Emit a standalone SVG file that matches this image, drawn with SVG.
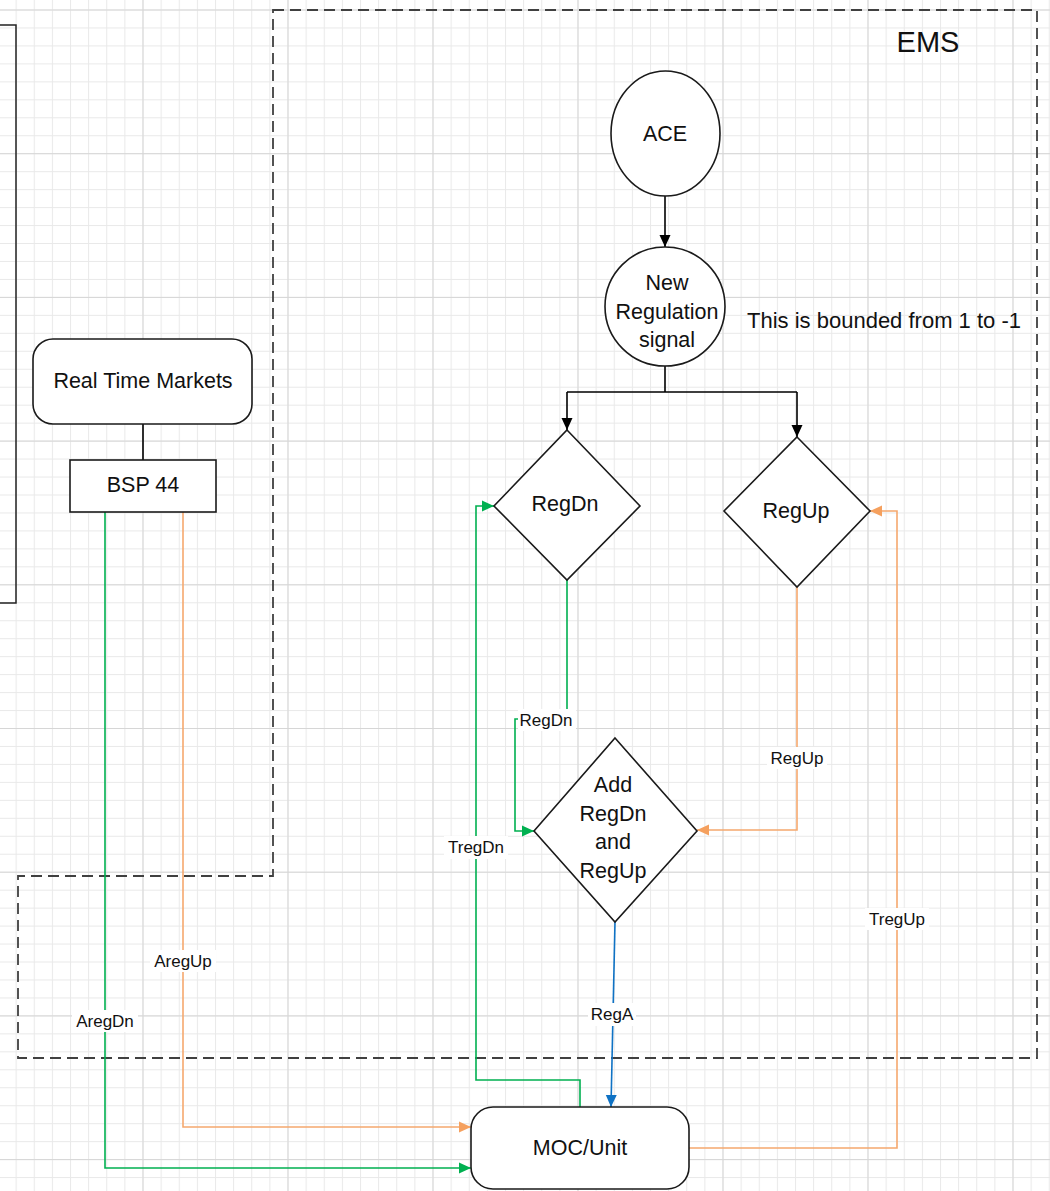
<svg xmlns="http://www.w3.org/2000/svg" width="1050" height="1191" viewBox="0 0 1050 1191">
<defs>
<pattern id="minor" patternUnits="userSpaceOnUse" x="-2.5" y="9.5" width="18.125" height="17.9625">
<rect x="0" y="0" width="1" height="17.9625" fill="#e9e9e9"/>
<rect x="0" y="0" width="18.125" height="1" fill="#e9e9e9"/>
</pattern>
<pattern id="major" patternUnits="userSpaceOnUse" x="-2.5" y="9.5" width="145" height="143.7">
<rect x="0" y="0" width="1" height="143.7" fill="#d6d6d6"/>
<rect x="0" y="0" width="145" height="1" fill="#d6d6d6"/>
</pattern>
<marker id="aBlack" markerUnits="userSpaceOnUse" markerWidth="12" markerHeight="12" refX="12" refY="6" orient="auto"><path d="M0,0.5 L12,6 L0,11.5 z" fill="#000"/></marker>
<marker id="aGreen" markerUnits="userSpaceOnUse" markerWidth="12" markerHeight="12" refX="12" refY="6" orient="auto"><path d="M0,0.5 L12,6 L0,11.5 z" fill="#00b050"/></marker>
<marker id="aOrange" markerUnits="userSpaceOnUse" markerWidth="12" markerHeight="12" refX="12" refY="6" orient="auto"><path d="M0,0.5 L12,6 L0,11.5 z" fill="#f5a05e"/></marker>
<marker id="aBlue" markerUnits="userSpaceOnUse" markerWidth="12" markerHeight="12" refX="12" refY="6" orient="auto"><path d="M0,0.5 L12,6 L0,11.5 z" fill="#0f72c4"/></marker>
</defs>
<style>
.node{fill:#fff;stroke:#1a1a1a;stroke-width:1.6}
.t{font-family:"Liberation Sans",Arial,sans-serif;font-size:21.5px;fill:#111;text-anchor:middle}
.lbl{font-family:"Liberation Sans",Arial,sans-serif;font-size:17px;fill:#111;text-anchor:middle}
.bg{fill:#fff}
.blk{fill:none;stroke:#000;stroke-width:1.6}
.grn{fill:none;stroke:#00b050;stroke-width:1.6}
.org{fill:none;stroke:#f5a86e;stroke-width:1.6}
.blu{fill:none;stroke:#0f72c4;stroke-width:1.6}
.dash{fill:none;stroke:#404040;stroke-width:1.8;stroke-dasharray:11 6}
</style>
<rect width="1050" height="1191" fill="#fff"/>
<rect width="1050" height="1191" fill="url(#minor)"/>
<rect width="1050" height="1191" fill="url(#major)"/>

<g id="left-box"><rect x="-10" y="25" width="26" height="578" fill="none" stroke="#222" stroke-width="1.5"/></g>

<g id="ems-boundary">
<path class="dash" d="M273,10 H1037 V1058 H18 V876 H273 Z"/>
<text x="928" y="52" font-family="Liberation Sans,Arial,sans-serif" font-size="29" fill="#111" text-anchor="middle">EMS</text>
</g>

<g id="connectors">
<path class="blk" d="M665,196 V247" marker-end="url(#aBlack)"/>
<path class="blk" d="M665,366 V392 M567,392 H797"/>
<path class="blk" d="M567,392 V430" marker-end="url(#aBlack)"/>
<path class="blk" d="M797,392 V437" marker-end="url(#aBlack)"/>
<path class="blk" d="M143,424 V460"/>
<path class="grn" d="M567,580 V719 H515 V831 H534" marker-end="url(#aGreen)"/>
<path class="org" d="M797,587 V830 H697" marker-end="url(#aOrange)"/>
<path class="blu" d="M615,922 L611,1107" marker-end="url(#aBlue)"/>
<path class="grn" d="M580,1107 V1080 H476 V506 H494" marker-end="url(#aGreen)"/>
<path class="org" d="M689,1148 H897 V511 H870" marker-end="url(#aOrange)"/>
<path class="grn" d="M105,512 V1168 H471" marker-end="url(#aGreen)"/>
<path class="org" d="M183,512 V1127 H471" marker-end="url(#aOrange)"/>
<g id="connector-labels">
<rect class="bg" x="518" y="709" width="58" height="22"/><text class="lbl" x="546" y="726">RegDn</text>
<rect class="bg" x="767" y="747" width="60" height="22"/><text class="lbl" x="797" y="764">RegUp</text>
<rect class="bg" x="444" y="836" width="64" height="23"/><text class="lbl" x="476" y="853">TregDn</text>
<rect class="bg" x="865" y="908" width="64" height="22"/><text class="lbl" x="897" y="925">TregUp</text>
<rect class="bg" x="588" y="1003" width="48" height="23"/><text class="lbl" x="612" y="1020">RegA</text>
<rect class="bg" x="150" y="950" width="66" height="22"/><text class="lbl" x="183" y="967">AregUp</text>
<rect class="bg" x="72" y="1010" width="66" height="22"/><text class="lbl" x="105" y="1027">AregDn</text>
</g>
</g>

<g id="ace"><ellipse class="node" cx="665.5" cy="133.5" rx="54.5" ry="62.5"/><text class="t" x="665" y="141">ACE</text></g>
<g id="new-regulation"><ellipse class="node" cx="665" cy="306.5" rx="60" ry="59.5"/>
<text class="t" x="667" y="290">New</text><text class="t" x="667" y="319">Regulation</text><text class="t" x="667" y="347">signal</text></g>
<text x="884" y="328" font-family="Liberation Sans,Arial,sans-serif" font-size="22" fill="#111" text-anchor="middle">This is bounded from 1 to -1</text>
<g id="regdn"><polygon class="node" points="567,430 640,506 567,580 494,506"/><text class="t" x="565" y="511">RegDn</text></g>
<g id="regup"><polygon class="node" points="797,437 870,511 797,587 724,511"/><text class="t" x="796" y="518">RegUp</text></g>
<g id="add"><polygon class="node" points="615,738 697,831 615,922 534,831"/>
<text class="t" x="613" y="792">Add</text><text class="t" x="613" y="821">RegDn</text><text class="t" x="613" y="849">and</text><text class="t" x="613" y="878">RegUp</text></g>
<g id="moc"><rect class="node" x="471" y="1107" width="218" height="82" rx="22" ry="22"/><text class="t" x="580" y="1155">MOC/Unit</text></g>
<g id="rtm"><rect class="node" x="33" y="339" width="219" height="85" rx="20" ry="20"/><text class="t" x="143" y="388">Real Time Markets</text></g>
<g id="bsp"><rect class="node" x="70" y="460" width="146" height="52"/><text class="t" x="143" y="492">BSP 44</text></g>
</svg>
